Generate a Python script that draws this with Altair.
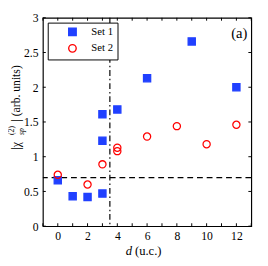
import altair as alt
import pandas as pd

set1_d = [0, 1, 2, 3, 3, 3, 4, 6, 9, 12]
set1_v = [0.66, 0.43, 0.42, 0.47, 1.23, 1.61, 1.68, 2.13, 2.66, 2.00]
set2_d = [0, 2, 3, 4, 4, 6, 8, 10, 12]
set2_v = [0.74, 0.60, 0.89, 1.08, 1.13, 1.29, 1.44, 1.18, 1.46]
hline = [0.7]
vline = [3.5]
xticks = list(range(-1, 14))
xlabels = [0, 2, 4, 6, 8, 10, 12]
yticks = [0, 0.5, 1, 1.5, 2, 2.5, 3]
corner_label = ["(a)"]

W, H = 215, 215
FONT = "Liberation Serif"
SETS = ["Set 1", "Set 2"]

df = pd.DataFrame(
    {"d": set1_d + set2_d, "v": set1_v + set2_v,
     "set": ["Set 1"] * len(set1_d) + ["Set 2"] * len(set2_d)}
)

xs = alt.Scale(domain=[-1, 13], nice=False, zero=False)
ys = alt.Scale(domain=[0, 3], nice=False, zero=False)

xaxis = alt.Axis(values=xlabels, ticks=False, grid=False, domain=False,
                 labelFont=FONT, labelFontSize=12, labelColor="black",
                 labelPadding=5, labelOverlap=False, title=None)
yaxis = alt.Axis(values=yticks, ticks=False, grid=False, domain=False,
                 labelFont=FONT, labelFontSize=12, labelColor="black",
                 labelPadding=5, labelOverlap=False,
                 labelExpr="toString(datum.value)", title=None)


def X(f="d"):
    return alt.X(f + ":Q", scale=xs, axis=xaxis)


def Y(f="v"):
    return alt.Y(f + ":Q", scale=ys, axis=yaxis)


leg = alt.Legend(title=None, orient="top-left", offset=5,
                 strokeColor="black", fillColor="white",
                 padding=4, labelFont=FONT, labelFontSize=11,
                 labelColor="black", symbolSize=60, symbolStrokeWidth=1.4,
                 symbolOffset=16, rowPadding=2, labelOffset=14)

pts = alt.Chart(df).mark_point(opacity=1, size=55, strokeWidth=1.3).encode(
    x=X(), y=Y(),
    shape=alt.Shape("set:N", scale=alt.Scale(domain=SETS, range=["square", "circle"]), legend=leg),
    fill=alt.Fill("set:N", scale=alt.Scale(domain=SETS, range=["#2040ff", "transparent"]), legend=leg),
    stroke=alt.Stroke("set:N", scale=alt.Scale(domain=SETS, range=["#2040ff", "#ff0000"]), legend=leg),
)

hl = alt.Chart(pd.DataFrame({"v": hline})).mark_rule(color="black", strokeDash=[6, 4], strokeWidth=1.2).encode(
    y=Y())
vl = alt.Chart(pd.DataFrame({"d": vline})).mark_rule(color="black", strokeDash=[6, 3, 1.5, 3], strokeWidth=1.2).encode(
    x=X())

tx = pd.DataFrame({"d": xticks})
ty = pd.DataFrame({"v": yticks})
tb = alt.Chart(tx).mark_rule(color="black", strokeWidth=1).encode(
    x=X(), y=alt.value(H), y2=alt.value(H - 3))
tt = alt.Chart(tx).mark_rule(color="black", strokeWidth=1).encode(
    x=X(), y=alt.value(0), y2=alt.value(3))
tl = alt.Chart(ty).mark_rule(color="black", strokeWidth=1).encode(
    y=Y(), x=alt.value(0), x2=alt.value(3))
tr = alt.Chart(ty).mark_rule(color="black", strokeWidth=1).encode(
    y=Y(), x=alt.value(W), x2=alt.value(W - 3))

lab = alt.Chart(pd.DataFrame({"t": corner_label})).mark_text(
    font=FONT, fontSize=15, color="black", align="right", baseline="top").encode(
    text="t:N", x=alt.value(W - 4), y=alt.value(9))


def txt(s, x, y, size=12, angle=0, align="left", style="normal"):
    return alt.Chart(pd.DataFrame({"t": [s]})).mark_text(
        font=FONT, fontSize=size, color="black", align=align, baseline="middle",
        angle=angle, fontStyle=style).encode(text="t:N", x=alt.value(x), y=alt.value(y))


titles = [
    txt("d", 92, 241, size=13, align="right", style="italic"),
    txt("(u.c.)", 95, 241, size=13),
    txt("|χ", -28, 136, size=12, angle=270),
    txt("(2)", -32, 121, size=8, angle=270),
    txt("sp", -22, 121, size=8, angle=270, style="italic"),
    txt("| (arb. units)", -28, 107, size=12, angle=270),
]

chart = alt.layer(hl, vl, tb, tt, tl, tr, pts, lab, *titles).properties(
    width=W, height=H,
    autosize=alt.AutoSizeParams(type="none"),
    padding={"left": 36, "top": 6, "right": 9, "bottom": 37},
).configure_view(stroke="black", strokeWidth=1.2).configure_axis(grid=False)

chart.save("out.html", embed_options={"renderer": "svg", "actions": False})
